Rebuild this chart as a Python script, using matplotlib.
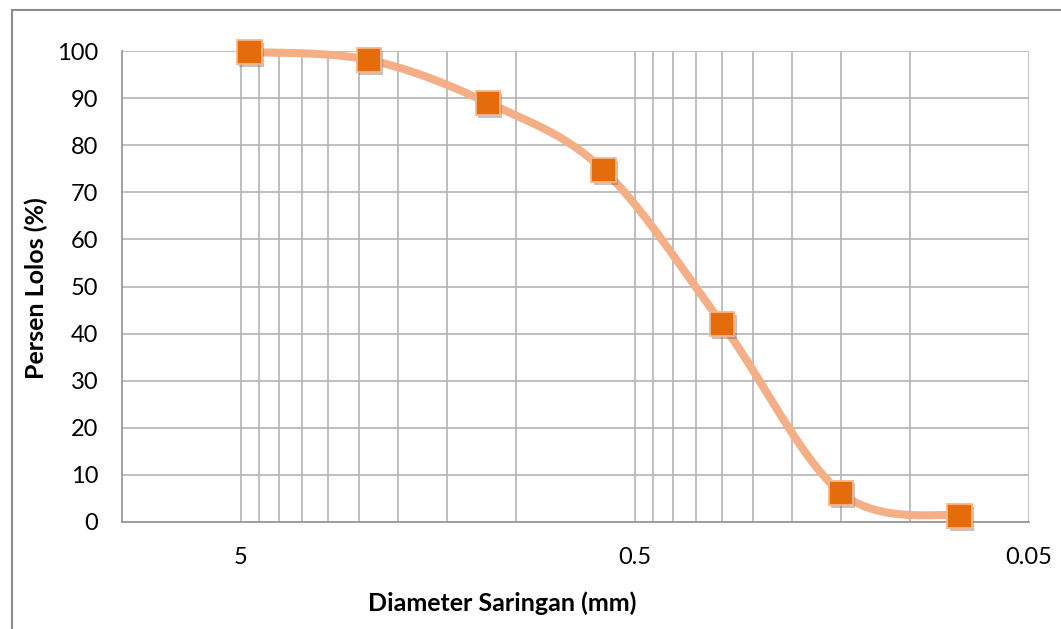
import numpy as np
import matplotlib
matplotlib.use("Agg")
import matplotlib.pyplot as plt
import matplotlib.patheffects as pe
from matplotlib.patches import Rectangle

plt.rcParams['font.family'] = ['Lato', 'DejaVu Sans']

# sieve sizes (mm) and percent passing
diameter = [4.75, 2.36, 1.18, 0.6, 0.3, 0.15, 0.075]
lolos = [99.8, 98.1, 89.0, 74.7, 42.0, 6.2, 1.3]

xticks = [5, 0.5, 0.05]
xticklabels = ['5', '0.5', '0.05']
yticks = list(range(0, 101, 10))

W, H = 1061, 629
fig = plt.figure(figsize=(W / 100, H / 100), dpi=100)
ax = fig.add_axes([122 / W, 1 - 522 / H, (1029 - 122) / W, (522 - 51) / H])

ax.set_xscale('log')
ax.set_xlim(10, 0.05)
ax.set_ylim(0, 100)

# minor gridlines at multiples of each decade base (0.05, 0.5)
minor = [b * k for b in (0.05, 0.5) for k in range(2, 10)]
ax.set_xticks(xticks)
ax.set_xticklabels(xticklabels)
ax.set_xticks(minor, minor=True)
ax.set_xticklabels([], minor=True)
ax.set_yticks(yticks)

grid_c = '#b4b4b4'
ax.grid(True, which='both', axis='x', color=grid_c, lw=1.2)
ax.grid(True, which='major', axis='y', color=grid_c, lw=1.2)
ax.set_axisbelow(True)
ax.tick_params(which='both', length=0, labelsize=17, colors='black')
ax.tick_params(axis='x', pad=18)
ax.tick_params(axis='y', pad=17)
for s in ('top', 'right'):
    ax.spines[s].set_visible(False)
for s in ('left', 'bottom'):
    ax.spines[s].set_color('#999999')
    ax.spines[s].set_linewidth(1.3)

# smooth line: Catmull-Rom bezier in display space
pts = ax.transData.transform(np.column_stack([diameter, lolos]))
P = np.vstack([pts[0], pts, pts[-1]])
t = np.linspace(0, 1, 40)[:, None]
curve = []
for i in range(1, len(P) - 2):
    p0, p1, p2, p3 = P[i - 1], P[i], P[i + 1], P[i + 2]
    c1 = p1 + (p2 - p0) / 6
    c2 = p2 - (p3 - p1) / 6
    seg = ((1 - t) ** 3) * p1 + 3 * ((1 - t) ** 2) * t * c1 + 3 * (1 - t) * t ** 2 * c2 + t ** 3 * p2
    curve.append(seg)
curve = ax.transData.inverted().transform(np.vstack(curve))
ax.plot(curve[:, 0], curve[:, 1], color='#F5AF86', lw=5.8, solid_capstyle='round',
        zorder=3, clip_on=False)

ax.plot(diameter, lolos, ls='none', marker='s', ms=17.5, mfc='#E46C0A',
        mec='#F7B68D', mew=1.3, zorder=4, clip_on=False,
        path_effects=[pe.SimplePatchShadow(offset=(1.5, -2), shadow_rgbFace='#555555', alpha=0.35),
                      pe.Normal()])

fig.text(502 / W, 1 - 603 / H, 'Diameter Saringan (mm)', ha='center', va='center',
         fontsize=18, fontweight='bold')
fig.text(36 / W, 1 - 288 / H, 'Persen Lolos (%)', ha='center', va='center',
         rotation=90, fontsize=18, fontweight='bold')

# chart frame
fig.patches.append(Rectangle((12 / W, -0.1), 2, (H - 10) / H + 0.1, transform=fig.transFigure,
                             fill=False, edgecolor='#8c8c8c', lw=1.5))

fig.savefig('out.png', dpi=100)
